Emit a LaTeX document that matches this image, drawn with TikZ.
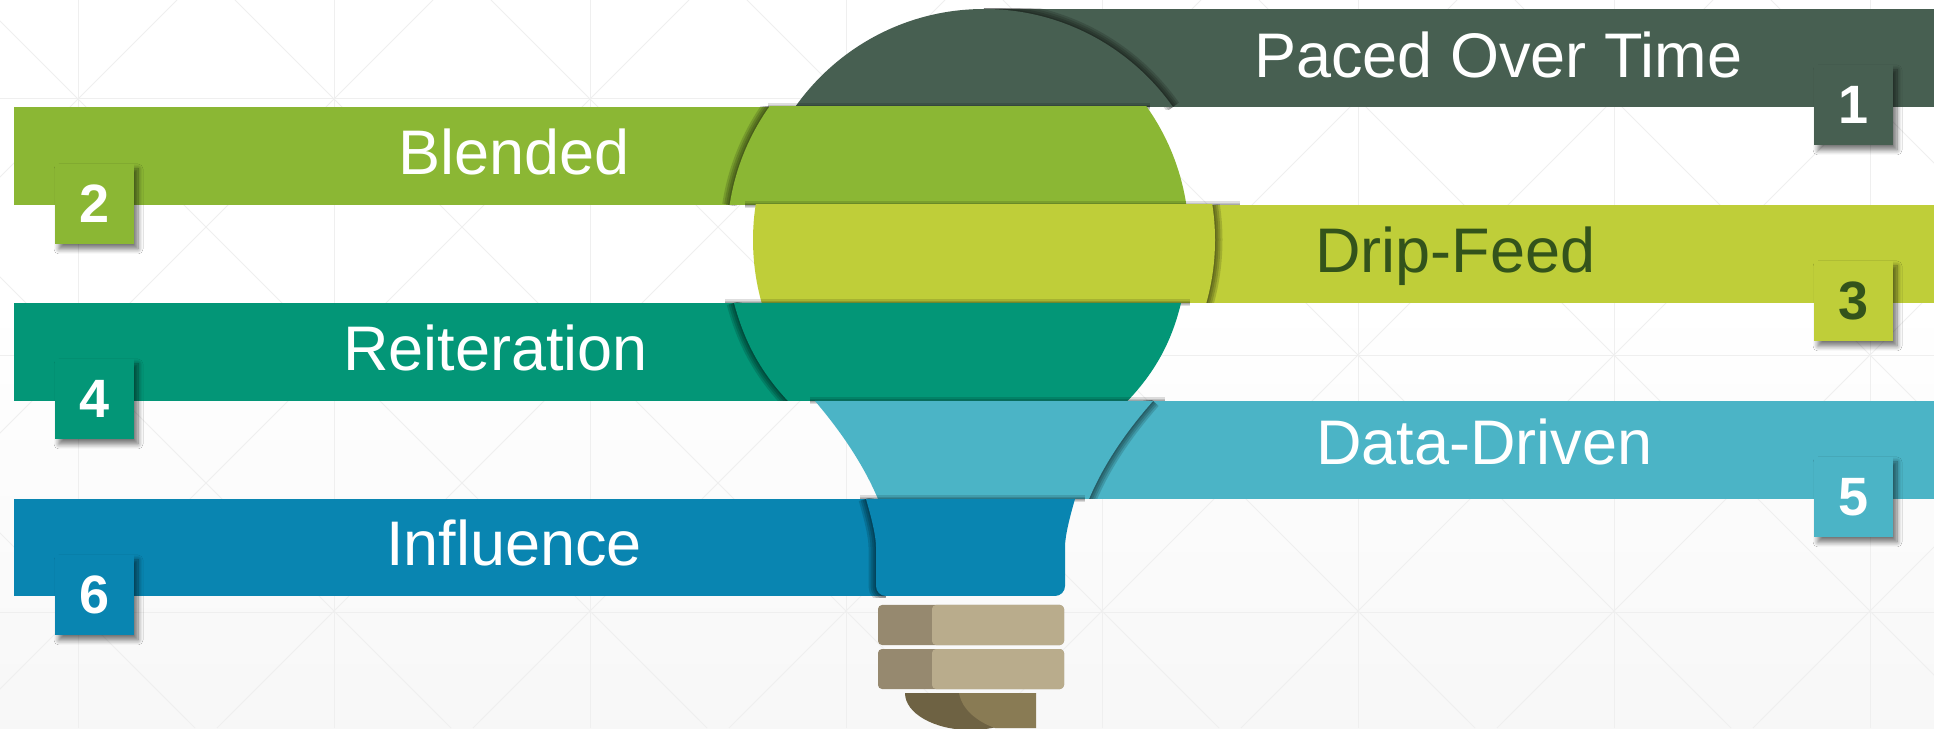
\documentclass[tikz,border=0pt]{standalone}
\usepackage{fontspec}
\setmainfont{Liberation Sans}
\usetikzlibrary{calc,shadows.blur}
\definecolor{paceband}{HTML}{475F51}
\definecolor{blendband}{HTML}{8BB734}
\definecolor{dripband}{HTML}{BFCE39}
\definecolor{dripink}{HTML}{33531B}
\definecolor{reiterband}{HTML}{039677}
\definecolor{databand}{HTML}{4BB4C6}
\definecolor{influband}{HTML}{0985B1}
\definecolor{baselight}{HTML}{B9AC8C}
\definecolor{basedark}{HTML}{96896F}
\definecolor{caplight}{HTML}{897B54}
\definecolor{capdark}{HTML}{6E6243}
\definecolor{gridline}{HTML}{EFEFEF}
\def\softpath#1{\foreach \w in {15,11,7,3}{\draw[black,opacity=0.15,line width=\w pt] #1;}}
\def\softtop#1{\foreach \w in {7,4,2}{\draw[black,opacity=0.13,line width=\w pt] #1;}}
\tikzset{
	bandlabel/.style={anchor=base west,inner sep=0pt,text=white,font=\fontsize{63}{70}\selectfont},
	badgebox/.style={minimum width=79pt,minimum height=80pt,inner sep=0pt,text=white,
		font=\fontsize{54}{60}\selectfont\bfseries,
		blur shadow={shadow xshift=4pt,shadow yshift=-5pt,shadow blur radius=5pt,shadow blur steps=8,shadow opacity=55}}
}
\begin{document}
\begin{tikzpicture}[x=1pt,y=1pt]
	%%%%% BACKDROP %%%%%
	\useasboundingbox (0,0) rectangle (1934,728);
	\fill[white] (0,0) rectangle (1934,728);
	\shade[top color=white,bottom color=black!3] (0,0) rectangle (1934,428);
	\begin{scope}
		\clip (0,0) rectangle (1934,728);
		\foreach \k in {0,...,7}{\draw[gridline,line width=1pt] ({78+256*\k},0) -- ({78+256*\k},728);}
		\foreach \k in {115,372,629}{\draw[gridline,line width=1pt] (0,\k) -- (1934,\k);}
		\foreach \k in {-3,...,8}{\draw[gridline,line width=0.8pt] ({707+256*\k},0) -- ({707+256*\k-728},728);}
		\foreach \k in {0,...,10}{\draw[gridline,line width=0.8pt] ({-551+256*\k},0) -- ({-551+256*\k+728},728);}
	\end{scope}

	\coordinate (bulbR) at (984,488);
	\coordinate (bulbL) at (958,488);

	%%%%% BAND 1 %%%%%
	\fill[paceband] (984,621) rectangle (1934,719);
	\begin{scope}
		\clip (900,618) rectangle (1934,719);
		\softpath{($(bulbR)+(90:231pt)$) arc (90:35.15:231pt)}
	\end{scope}
	\begin{scope}
		\clip (700,621) rectangle (1250,728);
		\fill[paceband] (bulbR) circle (231pt);
	\end{scope}

	%%%%% BAND 2 %%%%%
	\softtop{(768,621) -- (1150,621)}
	\fill[blendband] (14,523) rectangle (800,621);
	\begin{scope}
		\clip (14,520) rectangle (800,621);
		\softpath{($(bulbL)+(144.85:231pt)$) arc (144.85:171.3:231pt)}
	\end{scope}
	\begin{scope}
		\clip (700,523) rectangle (1250,621);
		\fill[blendband] (bulbL) circle (231pt);
	\end{scope}

	%%%%% BAND 3 %%%%%
	\softtop{(745,523) -- (1240,523)}
	\fill[dripband] (1100,425) rectangle (1934,523);
	\begin{scope}
		\clip (1100,425) rectangle (1934,523);
		\softpath{($(bulbR)+(8.7:231pt)$) arc (8.7:-15.8:231pt)}
	\end{scope}
	\begin{scope}
		\clip (700,425) rectangle (1250,523);
		\fill[dripband] (bulbR) circle (231pt);
	\end{scope}

	%%%%% BAND 4 %%%%%
	\softtop{(725,425) -- (1190,425)}
	\fill[reiterband] (14,327) rectangle (800,425);
	\begin{scope}
		\clip (14,327) rectangle (800,425);
		\softpath{(734,425) .. controls (743,392) and (757,360) .. (788,327)}
	\end{scope}
	\fill[reiterband] (734,425) .. controls (743,392) and (757,360) .. (788,327)
		-- (1127.5,327) .. controls (1159,360) and (1173,392) .. (1181,425) -- cycle;

	%%%%% BAND 5 %%%%%
	\softtop{(810,327) -- (1165,327)}
	\fill[databand] (1000,229) rectangle (1934,327);
	\begin{scope}
		\clip (1000,229) rectangle (1934,327);
		\softpath{(1089,229) .. controls (1103,262) and (1124,294) .. (1153,327)}
	\end{scope}
	\fill[databand] (815,327) .. controls (843,294) and (864,262) .. (878,229)
		-- (1089,229) .. controls (1103,262) and (1124,294) .. (1153,327) -- cycle;

	%%%%% BAND 6 %%%%%
	\softtop{(860,229) -- (1085,229)}
	\fill[influband] (14,132) rectangle (900,229);
	\begin{scope}
		\clip (14,130) rectangle (900,229);
		\softpath{(866,229) .. controls (873,205) and (876,190) .. (876,181) -- (876,142) arc (180:270:10pt)}
	\end{scope}
	\fill[influband] (866,229) .. controls (873,205) and (876,190) .. (876,181) -- (876,142)
		arc (180:270:10pt) -- (1055,132) arc (270:360:10pt) -- (1065,181)
		.. controls (1065,190) and (1068,205) .. (1075,229) -- cycle;

	%%%%% SCREW BASE %%%%%
	\fill[basedark,rounded corners=4pt] (878,83) rectangle (1064,123);
	\fill[baselight,rounded corners=4pt] (932,83) rectangle (1064,123);
	\fill[basedark,rounded corners=4pt] (878,39) rectangle (1064,79);
	\fill[baselight,rounded corners=4pt] (932,39) rectangle (1064,79);
	\begin{scope}
		\clip (905,0) rectangle (1036,35);
		\fill[capdark] (970.5,35) ellipse (65.5pt and 37pt);
		\fill[caplight] (959,35) .. controls (962,18) and (978,6) .. (995,0) -- (1040,0) -- (1040,35) -- cycle;
	\end{scope}

	%%%%% LABELS %%%%%
	\node[bandlabel] (paceText) at (1254,650) {Paced Over Time};
	\node[bandlabel] (blendText) at (398,553) {Blended};
	\node[bandlabel,text=dripink] (dripText) at (1315,455) {Drip-Feed};
	\node[bandlabel] (reiterText) at (343,357) {Reiteration};
	\node[bandlabel] (dataText) at (1316,263) {Data-Driven};
	\node[bandlabel] (influText) at (386,162) {Influence};

	\node[badgebox,fill=paceband] (paceNum) at (1853.5,623) {1};
	\node[badgebox,fill=blendband] (blendNum) at (94.5,524) {2};
	\node[badgebox,fill=dripband,text=dripink] (dripNum) at (1853.5,427) {3};
	\node[badgebox,fill=reiterband] (reiterNum) at (94.5,329) {4};
	\node[badgebox,fill=databand] (dataNum) at (1853.5,231) {5};
	\node[badgebox,fill=influband] (influNum) at (94.5,133) {6};
\end{tikzpicture}
\end{document}
